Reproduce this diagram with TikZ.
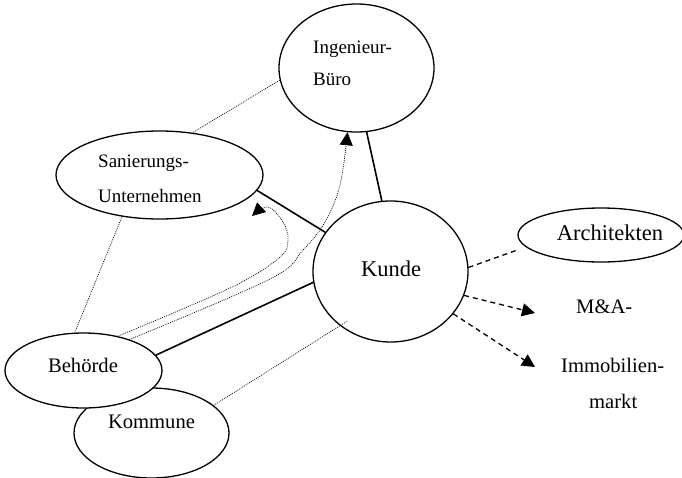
\documentclass[tikz,border=0pt]{standalone}
\usepackage{fontspec}
\setmainfont{Liberation Serif}
\usetikzlibrary{shapes.geometric,arrows.meta}
\begin{document}
\begin{tikzpicture}[x=1pt,y=-1pt,
  party/.style={draw, ellipse, fill=white, line width=1.3pt, inner sep=0pt},
  lbl/.style={inner sep=0pt, font=\fontsize{19}{19}\selectfont},
  midlbl/.style={inner sep=0pt, font=\fontsize{20.6}{20.6}\selectfont},
  biglbl/.style={inner sep=0pt, font=\fontsize{22.5}{22.5}\selectfont},
  tie/.style={line width=1.6pt},
  weak/.style={line width=0.7pt, dash pattern=on 0.9pt off 1.1pt},
  hint/.style={line width=1.3pt, dash pattern=on 5pt off 4pt},
  tip/.style={-{Triangle[length=13pt,width=13pt]}}
]
\fill[white] (0,0) rectangle (682,477);
\useasboundingbox (0,0) rectangle (682,477);
\clip (0,0) rectangle (682,477);

% actors
\node[party, minimum width=155pt, minimum height=128pt] (buero) at (356.5,68) {};
\node[party, minimum width=207pt, minimum height=88pt]  (san)   at (159.5,175) {};
\node[party, minimum width=155pt, minimum height=141pt] (kunde) at (390.5,271.5) {};
\node[party, minimum width=166pt, minimum height=54pt]  (arch)  at (601,235) {};
\node[party, minimum width=155pt, minimum height=90pt]  (kom)   at (151.5,433) {};
\node[party, minimum width=157pt, minimum height=75pt]  (beh)   at (83.5,370.5) {};

% labels
\node[lbl, anchor=base west] (tIng) at (313,53) {Ingenieur-};
\node[lbl, anchor=base west] (tBuero) at (313,85) {Büro};
\node[lbl, anchor=base west] (tSan) at (98,167.5) {Sanierungs-};
\node[lbl, anchor=base west] (tUnt) at (98,202.5) {Unternehmen};
\node[biglbl, anchor=base] (tKunde) at (391,276) {Kunde};
\node[biglbl, anchor=base] (tArch) at (610,240.5) {Architekten};
\node[midlbl, anchor=base west] (tMA) at (576,313) {M\&A-};
\node[midlbl, anchor=base west] (tImmo) at (561,372) {Immobilien-};
\node[midlbl, anchor=base west] (tMarkt) at (589,408) {markt};
\node[midlbl, anchor=base] (tBeh) at (83,372) {Behörde};
\node[midlbl, anchor=base] (tKom) at (151.5,428.5) {Kommune};

% free ends of the outgoing arrows
\coordinate (maTip) at (535,313);
\coordinate (immoTip) at (535,367);

% direct relations of the customer
\draw[tie] (kunde.97) -- (buero.279);
\draw[tie] (kunde.149) -- (san.351);
\draw[tie] (kunde.188) -- (beh.12);

% loose relations
\draw[weak] (buero.189) -- (san.52);
\draw[weak] (san.228) -- (beh.103);
\draw[weak, shorten >=-9pt] (kom.24) -- (kunde.227);

% authority influence
\draw[weak, tip] plot[smooth, tension=0.6] coordinates
  {(beh.34) (270,279) (303,250) (325,222) (340,185) (buero.262)};
\draw[weak, tip] plot[smooth, tension=0.6] coordinates
  {(beh.45) (230,288) (279,258) (288,240) (283,222) (268,207) (252,216)};

% market side
\draw[hint] (kunde.3) -- ([yshift=-15pt]arch.west);
\draw[hint, tip] (kunde.342) -- (maTip);
\draw[hint, tip] (kunde.326) -- (immoTip);
\end{tikzpicture}
\end{document}
